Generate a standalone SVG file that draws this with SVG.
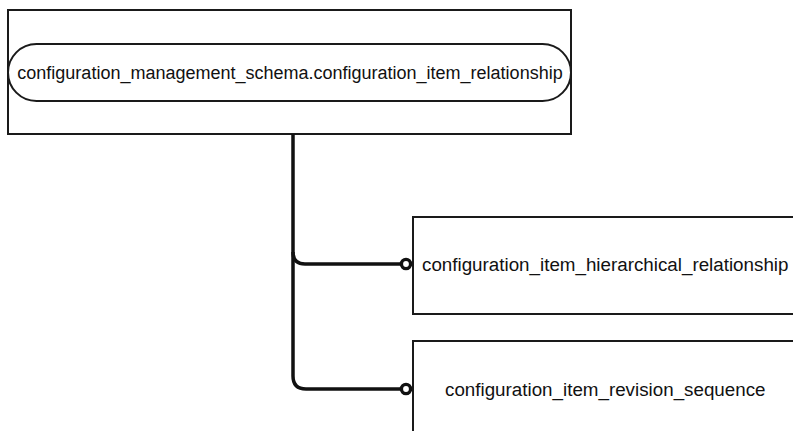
<svg xmlns="http://www.w3.org/2000/svg" width="793" height="431" viewBox="0 0 793 431">
  <style>
    .box { fill: #ffffff; stroke: #1a1a1a; stroke-width: 2; }
    .label { font-family: "Liberation Sans", Arial, sans-serif; font-size: 18.8px; fill: #111111; }
    .title { font-family: "Liberation Sans", Arial, sans-serif; font-size: 18px; fill: #111111; }
    .wire { fill: none; stroke: #111111; stroke-width: 3.5; }
    .end { fill: #ffffff; stroke: #111111; stroke-width: 3.4; }
  </style>
  <rect x="0" y="0" width="793" height="431" fill="#ffffff"/>

  <g id="configuration_item_relationship">
    <rect class="box" x="8" y="10" width="563" height="124"/>
    <rect class="box" x="8" y="44" width="563" height="57" rx="28.5" ry="28.5"/>
    <text class="title" x="290" y="79" text-anchor="middle">configuration_management_schema.configuration_item_relationship</text>
  </g>

  <g id="configuration_item_hierarchical_relationship">
    <rect class="box" x="413" y="217" width="400" height="97"/>
    <text class="label" x="422" y="271">configuration_item_hierarchical_relationship</text>
  </g>

  <g id="configuration_item_revision_sequence">
    <rect class="box" x="413" y="341" width="400" height="110"/>
    <text class="label" x="445" y="396">configuration_item_revision_sequence</text>
  </g>

  <g id="connectors">
    <path class="wire" d="M293 134 V376 Q293 389 306 389 H400"/>
    <path class="wire" d="M293 252 Q293 264 305 264 H400"/>
    <circle class="end" cx="406" cy="264" r="4.6"/>
    <circle class="end" cx="406" cy="389" r="4.6"/>
  </g>
</svg>
